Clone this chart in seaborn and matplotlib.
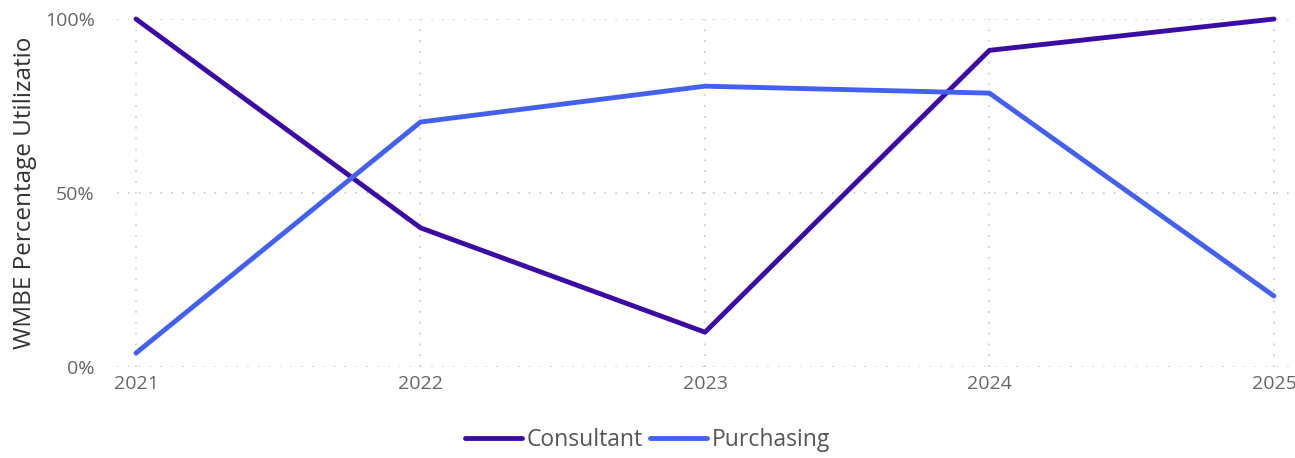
import pandas as pd
import matplotlib
matplotlib.use("Agg")
import matplotlib.pyplot as plt
from matplotlib.ticker import PercentFormatter
import seaborn as sns

# ----------------------------------------
# Data
# ----------------------------------------
years = [2021, 2022, 2023, 2024, 2025]
consultant = [1.00, 0.40, 0.10, 0.91, 1.00]
purchasing = [0.04, 0.704, 0.807, 0.787, 0.204]
series_names = ["Consultant", "Purchasing"]
palette = {"Consultant": "#3A0CA3", "Purchasing": "#4361EE"}

df = pd.DataFrame({
    "year": years * 2,
    "value": consultant + purchasing,
    "series": [series_names[0]] * len(years) + [series_names[1]] * len(years),
})

# ----------------------------------------
# Plot
# ----------------------------------------
sns.set_style("white")
plt.rcParams["font.family"] = ["Open Sans", "DejaVu Sans"]

fig = plt.figure(figsize=(12.95, 4.58), dpi=100)
ax = fig.add_axes([0.0903, 0.1987, 0.9097, 0.7598])

sns.lineplot(data=df, x="year", y="value", hue="series", palette=palette,
             linewidth=3.5, ax=ax, legend=False)
for line in ax.lines:
    line.set_solid_capstyle("round")
    line.set_clip_on(False)

ax.set_xlim(2020.933, 2025.074)
ax.set_ylim(0, 1)
ax.set_xticks(years)
ax.set_xticklabels([str(y) for y in years])
ax.set_yticks([0, 0.5, 1.0])
ax.yaxis.set_major_formatter(PercentFormatter(1.0, decimals=0))

ax.grid(True, color="#CFCFCF", linestyle=(0, (1, 5)), linewidth=1.3)
for s in ax.spines.values():
    s.set_visible(False)
ax.tick_params(axis="both", length=0, labelsize=14, labelcolor="#666666")
ax.tick_params(axis="y", pad=16)
ax.tick_params(axis="x", pad=6)

ax.set_xlabel("")
ax.set_ylabel("WMBE Percentage Utilizatio", fontsize=17.5, color="#333333", labelpad=6)

handles = [plt.Line2D([], [], color=palette[n], linewidth=3.5) for n in series_names]
fig.legend(handles, series_names, loc="center", bbox_to_anchor=(0.5, 0.04),
           ncol=2, frameon=False, fontsize=16.5, handlelength=2.5, handletextpad=0.2,
           columnspacing=0.3, labelcolor="#555555")

fig.savefig("out.png", dpi=100)
plt.close(fig)
